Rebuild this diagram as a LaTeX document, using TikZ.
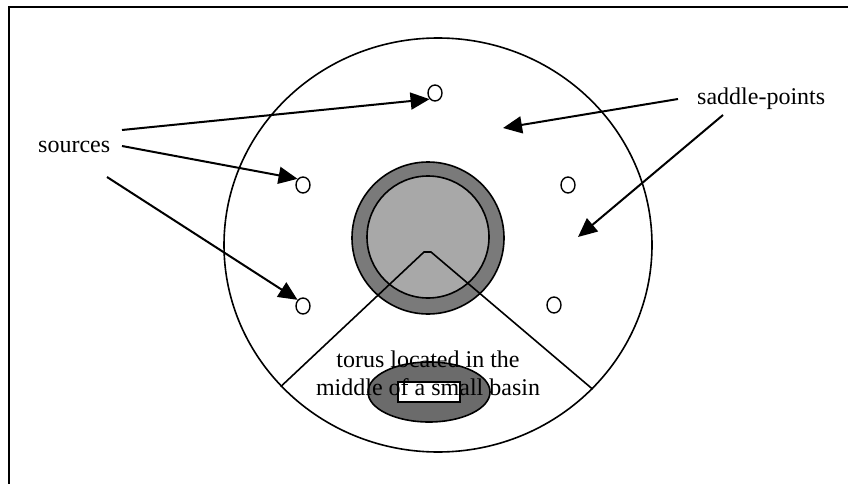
\documentclass[tikz,border=0pt]{standalone}
\usepackage{fontspec}
\setmainfont{Liberation Serif}
\usetikzlibrary{arrows.meta,shapes.geometric}
\definecolor{ringc}{gray}{0.48}
\definecolor{corec}{gray}{0.66}
\definecolor{basinc}{gray}{0.42}
\tikzset{
  ar/.style={-{Triangle[length=19pt,width=17pt]},line width=2pt,black},
  pt/.style={ellipse,draw,line width=1.4pt,fill=white,minimum width=14pt,minimum height=16pt,inner sep=0pt},
  lbl/.style={font=\fontsize{24}{28}\selectfont,inner sep=0pt},
  thk/.style={line width=1.6pt}
}
\begin{document}
\begin{tikzpicture}[x=1pt,y=-1pt]
\useasboundingbox (0,0) rectangle (848,484);
\draw[line width=1.5pt] (9,484)--(9,7)--(848,7);
\node[ellipse,draw,thk,minimum width=428pt,minimum height=414pt,inner sep=0pt] (disk) at (438,245) {};
\node[circle,draw,thk,fill=ringc,minimum size=152pt,inner sep=0pt] (ring) at (428,238) {};
\node[circle,draw,thk,fill=corec,minimum size=122pt,inner sep=0pt] (core) at (428,237) {};
\coordinate (apl) at (424,252);
\coordinate (apr) at (431,252);
\draw[thk] (disk.222)--(apl)--(apr)--(disk.317);
\node[ellipse,draw,thk,fill=basinc,minimum width=122pt,minimum height=60pt,inner sep=0pt] (basin) at (429,392) {};
\node[draw,fill=white,line width=1.4pt,minimum width=62pt,minimum height=20pt,inner sep=0pt] (torus) at (429,392) {};
\node[lbl,align=center,anchor=base] (tlbl) at (428,395) {torus located in the\\middle of a small basin};
\node[pt] (s1) at (435,93) {};
\node[pt] (s2) at (303,185) {};
\node[pt] (s3) at (303,306) {};
\node[pt] (s4) at (568,185) {};
\node[pt] (s5) at (554,305) {};
\node[lbl,anchor=base west] (src) at (38,152) {sources};
\node[lbl,anchor=base west] (sad) at (697,105) {saddle-points};
\coordinate (a1) at (122,130);
\coordinate (a2) at (122,146);
\coordinate (a3) at (107,177);
\coordinate (b1) at (678,99);
\coordinate (b2) at (723,115);
\coordinate (sp1) at (503,128);
\coordinate (sp2) at (578,237);
\draw[ar] (a1)--(s1.south west);
\draw[ar] (a2)--(s2.north west);
\draw[ar] (a3)--(s3.north west);
\draw[ar] (b1)--(sp1);
\draw[ar] (b2)--(sp2);
\end{tikzpicture}
\end{document}
